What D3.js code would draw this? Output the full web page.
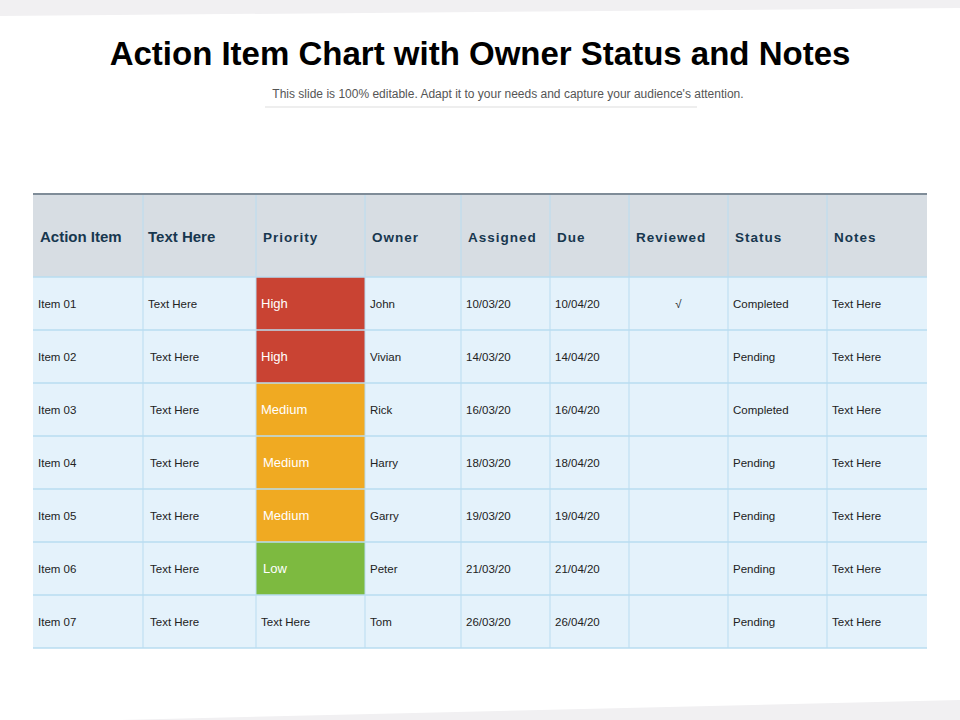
<!DOCTYPE html>
<html><head><meta charset="utf-8">
<script src="https://d3js.org/d3.v7.min.js"></script>
<style>body{margin:0;background:#fff}svg{display:block}</style></head>
<body><svg id="c" width="960" height="720"></svg>
<script>
const headers=["Action Item","Text Here","Priority","Owner","Assigned","Due","Reviewed","Status","Notes"];
const items=["Item 01","Item 02","Item 03","Item 04","Item 05","Item 06","Item 07"];
const texts=["Text Here","Text Here","Text Here","Text Here","Text Here","Text Here","Text Here"];
const priorities=["High","High","Medium","Medium","Medium","Low","Text Here"];
const owners=["John","Vivian","Rick","Harry","Garry","Peter","Tom"];
const assigned=["10/03/20","14/03/20","16/03/20","18/03/20","19/03/20","21/03/20","26/03/20"];
const due=["10/04/20","14/04/20","16/04/20","18/04/20","19/04/20","21/04/20","26/04/20"];
const reviewed=["√","","","","","",""];
const statuses=["Completed","Pending","Completed","Pending","Pending","Pending","Pending"];
const notes=["Text Here","Text Here","Text Here","Text Here","Text Here","Text Here","Text Here"];

const colEdges=[33,143,256,365,461,550,629,728,827,927];
const prioColor={High:"#c94333",Medium:"#f0aa22",Low:"#7dba40"};
const svg=d3.select("#c");
// background wedges
svg.append("path").attr("d","M0,0H960V8L0,16Z").attr("fill","#f1f0f2");
svg.append("path").attr("d","M0,720H960V700L120,720Z").attr("fill","#f1f0f2");
svg.append("text").attr("x",480).attr("y",65).attr("text-anchor","middle")
 .attr("font-family","Liberation Sans, Arial").attr("font-weight","bold").attr("font-size",33).attr("fill","#000")
 .text("Action Item Chart with Owner Status and Notes");
svg.append("text").attr("x",508).attr("y",98).attr("text-anchor","middle")
 .attr("font-family","Liberation Sans Narrow, Liberation Sans, Arial").attr("font-size",12).attr("fill","#555")
 .text("This slide is 100% editable. Adapt it to your needs and capture your audience's attention.");
svg.append("line").attr("x1",265).attr("x2",697).attr("y1",107).attr("y2",107).attr("stroke","#ddd");

const x=i=>colEdges[i];
const y=d3.scaleBand().domain(d3.range(7)).range([277,648]);
const headTop=194, headBot=277;
// header
svg.append("rect").attr("x",x(0)).attr("y",headTop).attr("width",x(9)-x(0)).attr("height",headBot-headTop).attr("fill","#d7dde3");
svg.append("rect").attr("x",x(0)).attr("y",277).attr("width",x(9)-x(0)).attr("height",648-277).attr("fill","#e4f2fb");
svg.append("line").attr("x1",x(0)).attr("x2",x(9)).attr("y1",headTop).attr("y2",headTop).attr("stroke","#7f8c98").attr("stroke-width",2);
const cols=[items,texts,priorities,owners,assigned,due,reviewed,statuses,notes];
// priority cells
d3.range(7).forEach(r=>{const p=priorities[r];if(prioColor[p])svg.append("rect").attr("x",x(2)).attr("y",y(r)).attr("width",x(3)-x(2)).attr("height",y.bandwidth()).attr("fill",prioColor[p]);});
// grid
d3.range(1,9).forEach(c=>svg.append("line").attr("x1",x(c)).attr("x2",x(c)).attr("y1",headTop+1).attr("y2",648).attr("stroke","#b9dcf0"));
d3.range(8).forEach(r=>{const yy=r<7?y(r):648;svg.append("line").attr("x1",x(0)).attr("x2",x(9)).attr("y1",yy).attr("y2",yy).attr("stroke","#b9dcf0").attr("stroke-width",1.5);});
headers.forEach((h,c)=>{
 const big=c<2;
 svg.append("text").attr("x",x(c)+(c==0?7:c==1?5:7)).attr("y",big?242:242)
  .attr("font-family","Liberation Sans, Arial").attr("font-weight","bold").attr("font-size",big?15:13.5)
  .attr("letter-spacing",big?0:1).attr("fill","#17374f").text(h);
});
cols.forEach((arr,c)=>arr.forEach((v,r)=>{
 const isP=c==2&&prioColor[v];
 const t=svg.append("text").attr("y",y(r)+y.bandwidth()/2+4).attr("font-family","Liberation Sans Narrow, Liberation Sans, Arial")
  .attr("font-size",isP?13:11.5).attr("fill",isP?"#fff":"#222").text(v);
 if(c==6) t.attr("x",(x(6)+x(7))/2).attr("text-anchor","middle");
 else t.attr("x",x(c)+(c==1&&r>0?7:c==2&&(r>=3&&r<=5)?7:5));
}));
</script></body></html>
